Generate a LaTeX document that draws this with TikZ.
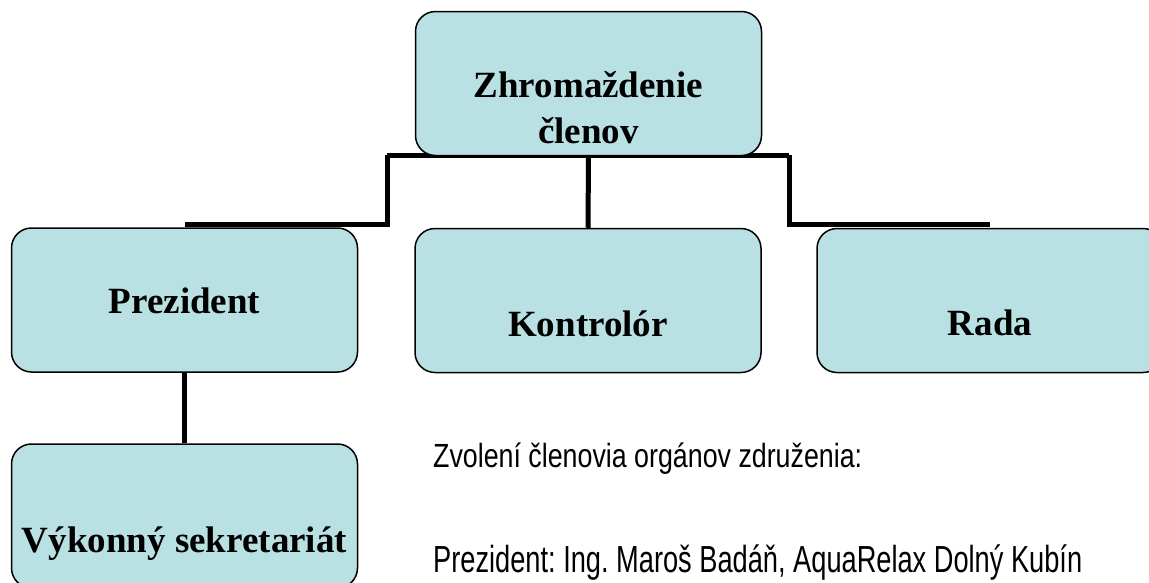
\documentclass[tikz,border=0pt]{standalone}
\usepackage{fontspec}
\setmainfont{Liberation Serif}
\newfontfamily\lowfont{Liberation Sans}
\usetikzlibrary{backgrounds}
\definecolor{boxfill}{RGB}{185,224,227}
\frenchspacing
\begin{document}
\begin{tikzpicture}[x=1pt,y=-1pt,
  orgbox/.style={draw=black, line width=1.5pt, fill=boxfill, rounded corners=20pt, minimum width=346pt, minimum height=144pt, inner sep=0pt},
  boxtext/.style={anchor=base, font=\fontsize{37}{44}\selectfont\bfseries, inner sep=0pt},
  conn/.style={line width=5pt},
  note/.style={anchor=base west, inner sep=0pt}]
\clip (0,0) rectangle (1149,582);
% boxes
\node[orgbox] (top) at (588.5,83.5) {};
\node[orgbox] (pres) at (184.5,300) {};
\node[orgbox] (kon) at (588,300.5) {};
\node[orgbox] (rada) at (990,300.5) {};
\node[orgbox] (vyk) at (184.5,516) {};
% texts
\node[boxtext] (t1) at (588.5,97) {Zhromaždenie};
\node[boxtext] (t2) at (588.5,143) {členov};
\node[boxtext] (t3) at (184.5,313) {Prezident};
\node[boxtext] (t4) at (588,336) {Kontrolór};
\node[boxtext] (t5) at (990,335) {Rada};
\node[boxtext] (t6) at (184.5,552) {Výkonný sekretariát};
\node[note] (n1) at (433,467) {\resizebox{429pt}{\height}{\lowfont\fontsize{33.5}{40}\selectfont Zvolení členovia orgánov združenia:}};
\node[note] (n2) at (433,572) {\resizebox{649pt}{\height}{\lowfont\fontsize{37.7}{44}\selectfont Prezident: Ing. Maroš Badáň, AquaRelax Dolný Kubín}};
% connectors
\coordinate (la) at (387,155);
\coordinate (lb) at (387,224);
\coordinate (ra) at (789,155);
\coordinate (rb) at (789,224);
\begin{scope}[on background layer]
\fill[white] (0,0) rectangle (1149,582);
\draw[conn] (top.south) -- (kon.north);
\draw[conn] (la) -- (ra);
\draw[conn] (la) -- (lb) -- (pres.north |- lb);
\draw[conn] (ra) -- (rb) -- (rada.north |- rb);
\draw[conn] (pres.south) -- (vyk.north);
\end{scope}
\end{tikzpicture}
\end{document}
